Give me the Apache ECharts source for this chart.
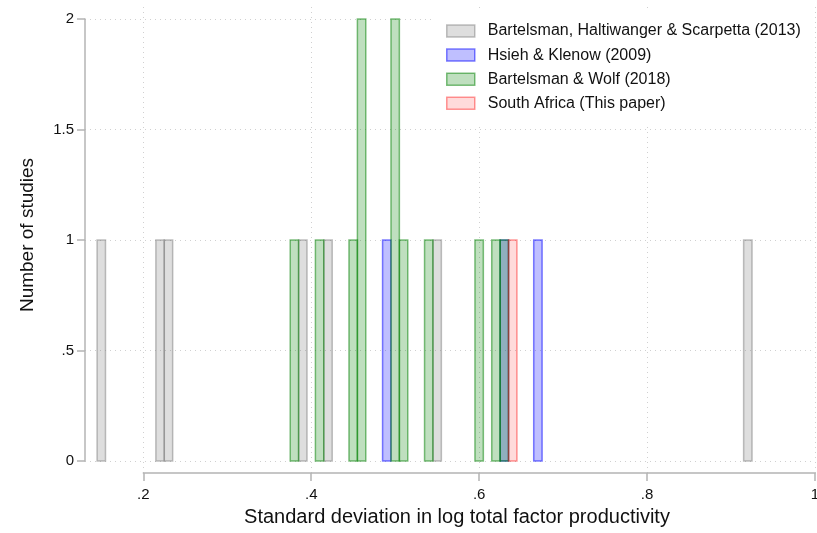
<!DOCTYPE html>
<html>
<head>
<meta charset="utf-8">
<script src="https://cdn.jsdelivr.net/npm/echarts@6/dist/echarts.min.js"></script>
<style>
html,body{margin:0;padding:0;background:#fff;}
#chart{width:817px;height:533px;}
</style>
</head>
<body>
<div id="chart"></div>
<script>
// Data (bin centres, bin width 0.01; counts)
const seriesNames = [
  'Bartelsman, Haltiwanger & Scarpetta (2013)',
  'Hsieh & Klenow (2009)',
  'Bartelsman & Wolf (2018)',
  'South Africa (This paper)'
];
const bhsX = [0.15, 0.22, 0.23, 0.39, 0.42, 0.55, 0.92];
const bhsY = [1, 1, 1, 1, 1, 1, 1];
const hkX = [0.49, 0.63, 0.67];
const hkY = [1, 1, 1];
const bwX = [0.38, 0.41, 0.45, 0.46, 0.50, 0.51, 0.54, 0.60, 0.62, 0.63];
const bwY = [1, 1, 1, 2, 2, 1, 1, 1, 1, 1];
const saX = [0.64];
const saY = [1];
const binWidth = 0.01;
const xTicks = ['.2', '.4', '.6', '.8', '1'];
const yTicks = ['0', '.5', '1', '1.5', '2'];

const fills = ['rgba(128,128,128,0.26)', 'rgba(0,0,255,0.25)', 'rgba(0,128,0,0.25)', 'rgba(255,0,0,0.14)'];
const strokes = ['rgba(128,128,128,0.5)', 'rgba(0,0,255,0.5)', 'rgba(0,128,0,0.5)', 'rgba(255,0,0,0.4)'];

function pairs(xs, ys) { return xs.map((x, i) => [x, ys[i]]); }
const allData = [pairs(bhsX, bhsY), pairs(hkX, hkY), pairs(bwX, bwY), pairs(saX, saY)];

function makeRender(idx) {
  return function (params, api) {
    const x = api.value(0), y = api.value(1);
    const p0 = api.coord([x - binWidth / 2, 0]);
    const p1 = api.coord([x + binWidth / 2, y]);
    return {
      type: 'rect',
      shape: { x: p0[0], y: p1[1], width: p1[0] - p0[0], height: p0[1] - p1[1] },
      style: { fill: fills[idx], stroke: strokes[idx], lineWidth: 1.5 }
    };
  };
}

const fontFam = '"Liberation Sans", Arial, sans-serif';
const chart = echarts.init(document.getElementById('chart'));

chart.setOption({
  animation: false,
  backgroundColor: '#fff',
  textStyle: { fontFamily: fontFam },
  grid: [
    { left: 85, right: 2, top: 19, bottom: 72, outerBoundsMode: 'none', containLabel: false },
    { left: 143.3, right: 2, top: 7, bottom: 60, outerBoundsMode: 'none', containLabel: false }
  ],
  xAxis: [
    {
      gridIndex: 0, type: 'value', min: 0.1306, max: 1,
      axisLine: { show: false }, axisTick: { show: false }, axisLabel: { show: false },
      splitLine: { show: false },
      name: 'Standard deviation in log total factor productivity',
      nameLocation: 'middle', nameGap: 46,
      nameTextStyle: { fontSize: 20, color: '#111', fontFamily: fontFam, padding: [0, 0, 0, 14] }
    },
    {
      gridIndex: 1, type: 'value', min: 0.2, max: 1, interval: 0.2,
      axisLine: { show: true, lineStyle: { color: '#b4b4b4', width: 1.5 } },
      axisTick: { show: true, length: 8, lineStyle: { color: '#b4b4b4', width: 1.5 } },
      axisLabel: { show: true, fontSize: 15, color: '#111', margin: 14, fontFamily: fontFam,
        formatter: v => xTicks[Math.round((v - 0.2) / 0.2)] },
      splitLine: { show: true, lineStyle: { color: '#d0d0d0', type: [1, 4], width: 1 } }
    }
  ],
  yAxis: [
    {
      gridIndex: 0, type: 'value', min: 0, max: 2, interval: 0.5,
      axisLine: { show: true, lineStyle: { color: '#b4b4b4', width: 1.5 } },
      axisTick: { show: true, length: 8, lineStyle: { color: '#b4b4b4', width: 1.5 } },
      axisLabel: { show: true, fontSize: 15, color: '#111', margin: 11, fontFamily: fontFam,
        formatter: v => yTicks[Math.round(v / 0.5)] },
      splitLine: { show: true, lineStyle: { color: '#d0d0d0', type: [1, 4], width: 1 } },
      name: 'Number of studies', nameLocation: 'middle', nameGap: 48, nameRotate: 90,
      nameTextStyle: { fontSize: 19, color: '#111', fontFamily: fontFam, padding: [0, 0, 0, 10] }
    },
    { gridIndex: 1, type: 'value', min: 0, max: 1, show: false }
  ],
  legend: {
    orient: 'vertical', left: 432, top: 11, padding: [12, 14, 12, 14],
    backgroundColor: '#fff', itemWidth: 28, itemHeight: 12, itemGap: 8.1,
    icon: 'rect', selectedMode: false,
    textStyle: { fontSize: 16, lineHeight: 16, color: '#111', fontFamily: fontFam, padding: [0, 0, 0, 8] },
    data: seriesNames.map((n, i) => ({
      name: n,
      itemStyle: { color: fills[i], borderColor: strokes[i], borderWidth: 1.5 }
    }))
  },
  series: seriesNames.map((n, i) => ({
    type: 'custom', name: n, xAxisIndex: 0, yAxisIndex: 0,
    renderItem: makeRender(i),
    encode: { x: 0, y: 1 },
    itemStyle: { color: fills[i], borderColor: strokes[i] },
    data: allData[i],
    z: 3 + i
  }))
});
</script>
</body>
</html>
